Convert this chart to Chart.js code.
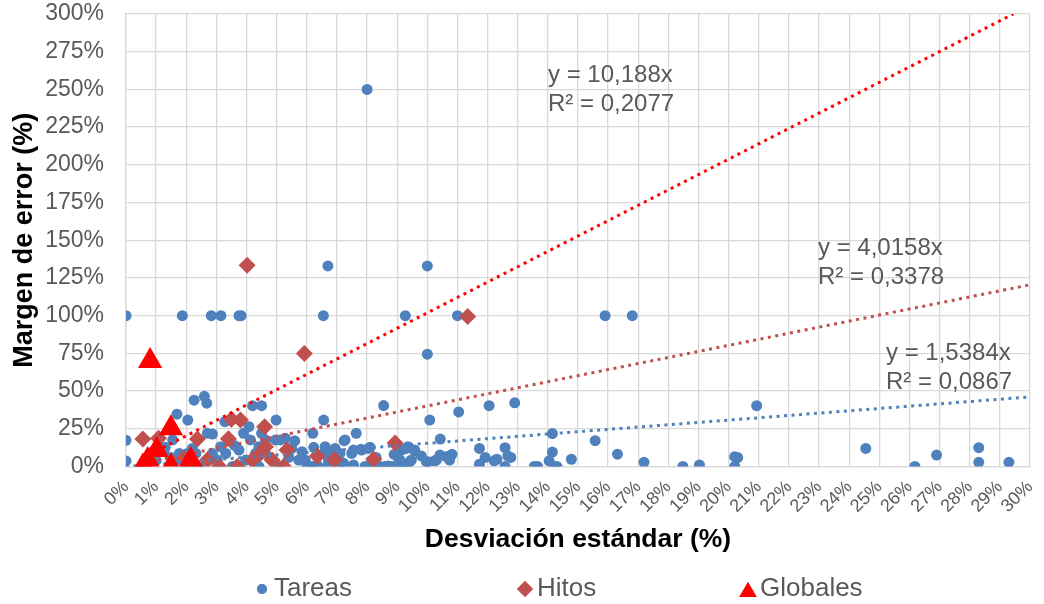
<!DOCTYPE html>
<html>
<head>
<meta charset="utf-8">
<script src="https://cdn.jsdelivr.net/npm/chart.js@4.4.0/dist/chart.umd.min.js"></script>
<style>
  body { margin: 0; background: #fff; }
  #wrap { width: 1044px; height: 604px; }
</style>
</head>
<body>
<div id="wrap"><canvas id="chart" width="1044" height="604"></canvas></div>
<script>
// series names
const seriesNames = ['Tareas', 'Hitos', 'Globales'];

// Tareas (desviación %, margen %)
const tareasX = [8.0, 0, 1.87, 2.83, 3.15, 3.75, 3.82, 6.55, 9.27, 11.0, 15.9, 16.8, 6.7, 10.0, 10.0,
  2.26, 2.6, 2.68, 1.69, 2.05, 4.2, 4.5, 4.98, 6.56, 8.55, 10.08, 11.04, 12.05, 12.9, 20.93, 14.15, 15.57, 0, 0, 10.43,
  24.55, 26.18, 26.9, 28.3, 28.3, 29.3,
  11.73, 12.58, 14.15, 16.31, 20.2, 20.3, 20.2, 18.48, 19.03, 17.19, 14.78, 13.55, 13.66, 14.04, 14.2, 14.3,
  11.73, 11.92, 12.22, 12.31, 12.58, 12.67, 12.77, 10.24, 10.42, 10.75, 10.82, 10.02,
  2.7, 2.87, 4.08, 3.28, 1.3, 1.55, 6.2, 7.64, 7.24, 5.12, 5.29, 5.84, 6.23, 6.56, 6.94, 7.1, 7.55, 7.79, 8.1, 9.31, 9.58,
  5.73, 6.0, 6.34, 6.67, 7.0, 7.22, 7.55, 7.99, 8.43, 8.7, 9.09, 9.2, 9.42, 9.97, 10.3, 10.63, 10.74,
  3.14, 3.31, 2.87, 3.03, 4.13, 4.41, 3.75, 3.97, 4.3, 4.63, 4.96, 5.95, 6.17, 6.61, 6.83, 6.72, 7.05, 7.27, 7.49, 7.82,
  8.04, 7.93, 8.26, 8.59, 8.81, 9.03, 9.25, 9.47, 9.58, 9.36, 9.14,
  1.77, 2.04, 2.32, 1.71, 1.99, 2.43, 1.27, 2.76, 3.09, 3.53, 3.75, 4.63, 4.85, 5.07, 4.41, 4.3,
  1.0, 1.5, 2.2, 3.4, 3.6, 5.5, 5.4, 8.3, 8.9, 9.8, 3.9, 4.5, 5.6, 0.9];
const tareasY = [250, 100, 100, 100, 100, 100, 100, 100, 100, 100, 100, 100, 133, 133, 74.5,
  44, 46.5, 42, 34.7, 30.8, 40.3, 40.3, 30.8, 30.8, 40.4, 30.8, 36.2, 40.3, 42.2, 40.3, 21.8, 17.1, 17.4, 3.7, 18.2,
  12, 0, 7.6, 12.5, 2.8, 2.8,
  12, 12.5, 9.6, 8.2, 6.5, 5.9, 0, 0, 1, 2.8, 4.8, 0, 0, 3.8, 0, 0,
  1.5, 6, 3.8, 4.8, 0, 7, 6, 3.8, 7.6, 7, 8.1, 3.2,
  22, 21.5, 26.4, 29.7, 12.7, 17.6, 22, 22, 17.1, 17.6, 18.7, 9.8, 12.7, 8.7, 12, 8.7, 10.9, 11.4, 12.7, 12, 10.5,
  4.3, 0, 1, 0, 4.3, 2.1, 1, 0, 0, 0.3, 4.3, 0, 3.2, 3.2, 4.3, 6.5, 4.3,
  13.1, 8.7, 8.7, 4.3, 17.6, 13.1, 10.9, 4.3, 8.7, 17.6, 17.6, 4.3, 0, 13.1, 8.7, 4.3, 0, 17.6, 8.7, 10.9,
  12, 0, 0, 0, 0, 2.1, 0, 4.3, 10.9, 13.1, 10.9,
  8.7, 8.7, 8.7, 4.3, 2.1, 0, 10.9, 4.3, 0, 0, 0, 8.7, 4.3, 0, 0, 4.3,
  4, 6, 12, 17, 14, 12, 6, 6, 8, 7, 22, 22, 17, 10];

// Hitos
const hitosX = [0.56, 1.08, 2.37, 3.4, 3.5, 3.8, 4.6, 4.02, 5.92, 11.34, 8.93, 5.34, 4.63, 6.35, 6.92, 8.22,
  5.23, 3.09, 3.69, 4.19, 1.93, 2.7, 4.46, 4.85];
const hitosY = [18.2, 18.7, 18.2, 18.4, 31.3, 30.8, 26.4, 133.5, 75, 99.5, 15.6, 10.9, 13.1, 7, 4.5, 4.8,
  0, 0, 0, 4.3, 5.4, 4.3, 8.7, 4.3];

// Globales
const globalesX = [0.8, 1.49, 0.72, 1.02, 1.49, 2.15, 0.56];
const globalesY = [70, 25.3, 4.3, 11, 0, 4.3, 0];

// trend lines (linear through origin), same order as the series
const trendSlopes = [1.5384, 4.0158, 10.188];
const trendEq = ['y = 1,5384x', 'y = 4,0158x', 'y = 10,188x'];
const trendR2 = ['R² = 0,0867', 'R² = 0,3378', 'R² = 0,2077'];

// axis ranges / ticks
const xMax = 30, yMax = 300, yStep = 25;

const colors = ['#4F81BD', '#C0504D', '#FF0000'];
const FONT = "'Liberation Sans', Arial, sans-serif";

const toPts = (xs, ys) => xs.map((x, i) => ({ x: x, y: ys[i] }));
const seriesPts = [toPts(tareasX, tareasY), toPts(hitosX, hitosY), toPts(globalesX, globalesY)];

const trendLine = (i) => {
  const x0 = Math.min(...seriesPts[i].map(p => p.x));
  const x1 = Math.min(xMax, yMax / trendSlopes[i]);
  return [{ x: x0, y: x0 * trendSlopes[i] }, { x: x1, y: x1 * trendSlopes[i] }];
};

const datasets = [
  { label: seriesNames[0], data: seriesPts[0], pointStyle: 'circle', pointRadius: 5.5,
    backgroundColor: colors[0], borderColor: colors[0], borderWidth: 0, order: 3 },
  { label: seriesNames[1], data: seriesPts[1], pointStyle: 'rectRot', pointRadius: 8.5,
    backgroundColor: colors[1], borderColor: colors[1], borderWidth: 0, order: 2 },
  { label: seriesNames[2], data: seriesPts[2], pointStyle: 'triangle', pointRadius: 14,
    backgroundColor: colors[2], borderColor: colors[2], borderWidth: 0, order: 0 }
];
trendSlopes.forEach((s, i) => {
  datasets.push({
    label: 'trend ' + seriesNames[i], data: trendLine(i), showLine: true, pointRadius: 0,
    borderColor: colors[i], borderWidth: 3, borderDash: [3, 4.5], fill: false, order: 1
  });
});

// equations + legend drawn on top
const extras = {
  id: 'extras',
  afterDraw(chart) {
    const ctx = chart.ctx;
    ctx.save();
    ctx.fillStyle = '#595959';
    ctx.font = '24px ' + FONT;
    ctx.textAlign = 'left';
    ctx.textBaseline = 'middle';
    const spots = [[886, 353], [818, 248], [548, 75]];
    spots.forEach((p, i) => {
      ctx.fillText(trendEq[i], p[0], p[1]);
      ctx.fillText(trendR2[i], p[0], p[1] + 29);
    });

    // legend
    ctx.font = '26px ' + FONT;
    const legendY = 589;
    const marks = [262, 525, 748];
    const sizes = [5, 8, 10];
    seriesNames.forEach((name, i) => {
      ctx.fillStyle = colors[i];
      Chart.helpers.drawPoint(ctx, { pointStyle: datasets[i].pointStyle, radius: sizes[i], rotation: 0, borderWidth: 0 },
        marks[i], legendY + (i === 2 ? 3 : 0));
      ctx.fill();
      ctx.fillStyle = '#595959';
      ctx.fillText(name, marks[i] + 12, legendY);
    });
    ctx.restore();
  }
};

const noPad = (s) => { s.paddingLeft = 0; s.paddingRight = 0; s.paddingTop = 0; s.paddingBottom = 0; };

new Chart(document.getElementById('chart'), {
  type: 'scatter',
  data: { datasets: datasets },
  options: {
    responsive: false,
    animation: false,
    layout: { padding: { left: 0, right: 9, top: 14, bottom: 47.5 } },
    plugins: { legend: { display: false }, tooltip: { enabled: false } },
    scales: {
      x: {
        type: 'linear', min: 0, max: xMax,
        afterFit: (s) => { s.height = 90; noPad(s); },
        grid: { color: '#D9D9D9', lineWidth: 1.3, drawTicks: false },
        border: { color: '#D9D9D9', width: 1.3 },
        ticks: { stepSize: 1, autoSkip: false, minRotation: 45, maxRotation: 45, padding: 10,
          color: '#595959', font: { family: FONT, size: 18 }, callback: (v) => v + '%' },
        title: { display: true, text: 'Desviación estándar (%)', color: '#000',
          font: { family: FONT, size: 26.5, weight: 'bold' }, padding: { top: 0, bottom: 1 } }
      },
      y: {
        min: 0, max: yMax,
        afterFit: (s) => { s.width = 126; noPad(s); },
        grid: { color: '#D9D9D9', lineWidth: 1.3, drawTicks: false },
        border: { color: '#D9D9D9', width: 1.3 },
        ticks: { stepSize: yStep, padding: 22, color: '#595959',
          font: { family: FONT, size: 23 }, callback: (v) => v + '%' },
        title: { display: true, text: 'Margen de error (%)', color: '#000',
          font: { family: FONT, size: 27, weight: 'bold' }, padding: { top: 8, bottom: 0 } }
      }
    }
  },
  plugins: [extras]
});
</script>
</body>
</html>
